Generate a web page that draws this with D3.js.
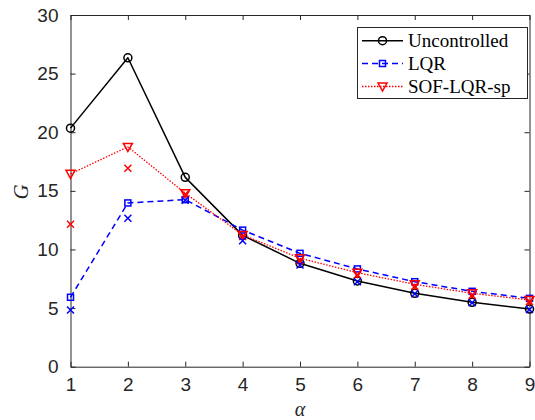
<!DOCTYPE html>
<html><head><meta charset="utf-8">
<script src="https://cdn.jsdelivr.net/npm/d3@7"></script>
<style>body{margin:0;background:#fff}svg{display:block}</style>
</head><body>
<svg id="c" width="535" height="420"></svg>
<script>
const alphas = [1, 2, 3, 4, 5, 6, 7, 8, 9];
const uncontrolled = [20.35, 26.35, 16.15, 11.2, 8.82, 7.31, 6.26, 5.49, 4.92];
const lqr = [5.92, 13.97, 14.25, 11.65, 9.67, 8.34, 7.25, 6.43, 5.83];
const sofLqrSp = [16.45, 18.75, 14.8, 11.24, 9.25, 8.02, 7.03, 6.26, 5.69];
const sofCross = [12.15, 16.93, 14.7, 11.1, 9.05, 7.85, 6.85, 6.1, 5.55];
const lqrCross = [4.84, 12.66, 14.2, 10.75, 8.68, 7.25, 6.22, 5.45, 4.88];
const xTicks = [1, 2, 3, 4, 5, 6, 7, 8, 9];
const yTicks = [0, 5, 10, 15, 20, 25, 30];
const seriesNames = ["Uncontrolled", "LQR", "SOF-LQR-sp"];

const L = 70.5, R = 529.5, T = 15, B = 366.7;
const svg = d3.select("#c");
const x = d3.scaleLinear().domain([1, 9]).range([L, R]);
const y = d3.scaleLinear().domain([0, 30]).range([B, T]);
const axCol = "#262626";

// axes
const fontTick = "Liberation Sans, Arial, sans-serif";
const gx = svg.append("g").attr("transform", `translate(0,${B})`)
  .call(d3.axisBottom(x).tickValues(xTicks).tickSizeInner(-5).tickSizeOuter(0).tickPadding(11).tickFormat(d3.format("d")));
const gxt = svg.append("g").attr("transform", `translate(0,${T})`)
  .call(d3.axisTop(x).tickValues(xTicks).tickSizeInner(-5).tickSizeOuter(0).tickFormat(""));
const gy = svg.append("g").attr("transform", `translate(${L},0)`)
  .call(d3.axisLeft(y).tickValues(yTicks).tickSizeInner(-5).tickSizeOuter(0).tickPadding(12).tickFormat(d3.format("d")));
const gyr = svg.append("g").attr("transform", `translate(${R},0)`)
  .call(d3.axisRight(y).tickValues(yTicks).tickSizeInner(-5).tickSizeOuter(0).tickFormat(""));
[gx, gxt, gy, gyr].forEach(g => {
  g.selectAll("path").attr("stroke", axCol).attr("stroke-width", 1);
  g.selectAll("line").attr("stroke", axCol).attr("stroke-width", 1);
  g.selectAll("text").attr("fill", axCol).attr("font-family", fontTick).attr("font-size", 19);
});

const clipG = svg.append("g");

const line = d3.line().x((d, i) => x(alphas[i])).y(d => y(d));

function drawSeries(vals, color, dash, width) {
  clipG.append("path").datum(vals).attr("d", line).attr("fill", "none")
    .attr("stroke", color).attr("stroke-width", width)
    .attr("stroke-dasharray", dash).attr("stroke-linejoin", "round");
}
function circleMarker(g, cx, cy, col) {
  g.append("circle").attr("cx", cx).attr("cy", cy).attr("r", 4)
    .attr("fill", "none").attr("stroke", col).attr("stroke-width", 1.5);
}
function squareMarker(g, cx, cy, col) {
  g.append("rect").attr("x", cx - 3).attr("y", cy - 3).attr("width", 6).attr("height", 6)
    .attr("fill", "none").attr("stroke", col).attr("stroke-width", 1.5);
}
function triMarker(g, cx, cy, col) {
  g.append("path").attr("d", `M${cx - 4.5},${cy - 3.5}L${cx + 4.5},${cy - 3.5}L${cx},${cy + 4.5}Z`)
    .attr("fill", "none").attr("stroke", col).attr("stroke-width", 1.5);
}
function crossMarker(g, cx, cy, col) {
  const s = 3.5;
  g.append("path").attr("d", `M${cx - s},${cy - s}L${cx + s},${cy + s}M${cx - s},${cy + s}L${cx + s},${cy - s}`)
    .attr("fill", "none").attr("stroke", col).attr("stroke-width", 1.5);
}

drawSeries(uncontrolled, "#000", null, 1.5);
uncontrolled.forEach((v, i) => circleMarker(clipG, x(alphas[i]), y(v), "#000"));
drawSeries(lqr, "#0000ff", "6,4", 1.5);
lqr.forEach((v, i) => squareMarker(clipG, x(alphas[i]), y(v), "#0000ff"));
drawSeries(sofLqrSp, "#ff0000", "1.5,1.5", 1.3);
sofLqrSp.forEach((v, i) => triMarker(clipG, x(alphas[i]), y(v), "#ff0000"));
sofCross.forEach((v, i) => crossMarker(clipG, x(alphas[i]), y(v), "#ff0000"));
lqrCross.forEach((v, i) => crossMarker(clipG, x(alphas[i]), y(v), "#0000ff"));

// axis labels
svg.append("text").attr("x", 300).attr("y", 416).attr("text-anchor", "middle")
  .attr("font-family", "Liberation Serif, Times New Roman, serif").attr("font-style", "italic")
  .attr("font-size", 20).attr("fill", axCol).text("α");
svg.append("text").attr("transform", "translate(28,192) rotate(-90)").attr("text-anchor", "middle")
  .attr("font-family", "Liberation Serif, Times New Roman, serif").attr("font-style", "italic")
  .attr("font-size", 21).attr("fill", axCol).text("G");

// legend
const lg = svg.append("g");
lg.append("rect").attr("x", 357.5).attr("y", 27.5).attr("width", 170).attr("height", 71)
  .attr("fill", "#fff").attr("stroke", axCol).attr("stroke-width", 1);
const rows = [40.7, 63.5, 86.5];
const styles = [
  {c: "#000", dash: null, w: 1.5, m: circleMarker},
  {c: "#0000ff", dash: "6,4", w: 1.5, m: squareMarker},
  {c: "#ff0000", dash: "1.5,1.5", w: 1.3, m: triMarker}
];
seriesNames.forEach((name, i) => {
  const st = styles[i], yy = rows[i];
  lg.append("line").attr("x1", 362).attr("x2", 403).attr("y1", yy).attr("y2", yy)
    .attr("stroke", st.c).attr("stroke-width", st.w).attr("stroke-dasharray", st.dash);
  st.m(lg, 382.5, yy, st.c);
  lg.append("text").attr("x", 408).attr("y", yy + 6.5)
    .attr("font-family", "Liberation Serif, Times New Roman, serif").attr("font-size", 19)
    .attr("fill", "#000").text(name);
});
</script>
</body></html>
